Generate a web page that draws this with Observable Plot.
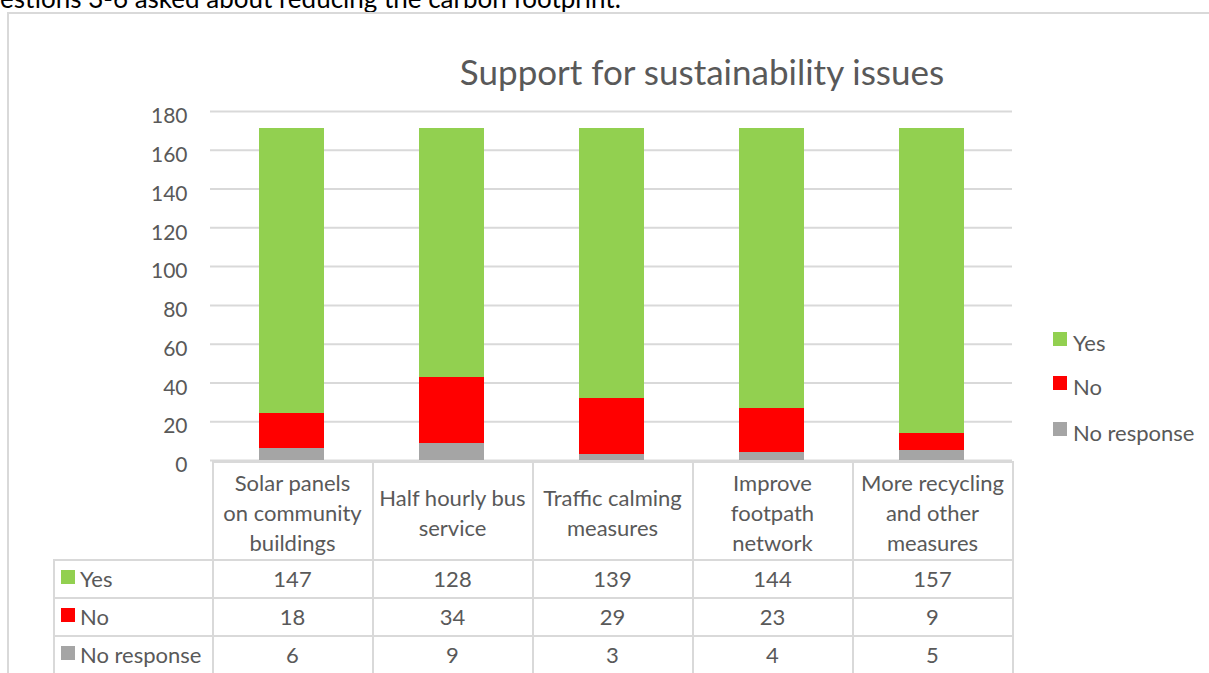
<!DOCTYPE html>
<html>
<head>
<meta charset="utf-8">
<script src="https://cdn.jsdelivr.net/npm/d3@7"></script>
<script src="https://cdn.jsdelivr.net/npm/@observablehq/plot@0.6"></script>
<style>
  html, body { margin: 0; padding: 0; background: #fff; }
  body { width: 1209px; height: 673px; overflow: hidden; position: relative; font-family: Lato, "Open Sans", sans-serif; color: #595959; }
  #intro { position: absolute; left: 0px; top: -15px; font-size: 26px; color: #000; white-space: nowrap; line-height: 26px; }
  #frame { position: absolute; left: 7px; top: 12px; width: 1300px; height: 800px; border-top: 2px solid #d9d9d9; border-left: 2px solid #d9d9d9; }
  #title { position: absolute; left: 352px; width: 700px; top: 50px; text-align: center; font-size: 35px; line-height: 42px; color: #595959; }
  #chart { position: absolute; left: 0; top: 0; }
  #legend { position: absolute; left: 1053px; top: 330px; font-size: 22px; }
  .leg { position: absolute; left: 0; white-space: nowrap; height: 26px; line-height: 26px; }
  .sw { display: inline-block; width: 14px; height: 14px; vertical-align: top; margin-top: 2px; margin-right: 6px; }
  #table { position: absolute; left: 53px; top: 461px; border-collapse: collapse; font-size: 22px; color: #595959; table-layout: fixed; }
  #table td { border: 2px solid #d9d9d9; padding: 0; text-align: center; }
  #table td.corner { border-top: none; border-left: none; }
  #table tr.head td { height: 92px; line-height: 30px; vertical-align: middle; padding-top: 4px; white-space: pre-line; }
  #table tr.row td { height: 36px; line-height: 36px; }
  #table td.rl { text-align: left; padding-left: 6px; white-space: nowrap; }
  #table td.rl .sw { margin-top: 9px; margin-right: 5px; }
</style>
</head>
<body>
<div id="intro">estions 3-6 asked about reducing the carbon footprint.</div>
<div id="frame"></div>
<div id="chart"></div>
<div id="title">Support for sustainability issues</div>
<div id="legend"></div>
<table id="table"></table>
<script>
// ---- data ----
const categories = [
  "Solar panels on community buildings",
  "Half hourly bus service",
  "Traffic calming measures",
  "Improve footpath network",
  "More recycling and other measures"
];
const categoryLabels = [
  "Solar panels\non community\nbuildings",
  "Half hourly bus\nservice",
  "Traffic calming\nmeasures",
  "Improve\nfootpath\nnetwork",
  "More recycling\nand other\nmeasures"
];
const seriesNames = ["Yes", "No", "No response"];
const seriesColors = ["#92d050", "#ff0000", "#a5a5a5"];
const yesValues = [147, 128, 139, 144, 157];
const noValues = [18, 34, 29, 23, 9];
const noResponseValues = [6, 9, 3, 4, 5];
const yTicks = [0, 20, 40, 60, 80, 100, 120, 140, 160, 180];

const seriesValues = {"Yes": yesValues, "No": noValues, "No response": noResponseValues};
const stackOrder = ["No response", "No", "Yes"];
const rows = [];
for (const s of stackOrder) {
  categories.forEach((c, i) => rows.push({category: c, series: s, value: seriesValues[s][i]}));
}

const W = 1209, H = 673;
const plot = Plot.plot({
  width: W,
  height: H,
  marginLeft: 210,
  marginRight: 197,
  marginTop: 111,
  marginBottom: 213,
  style: {fontFamily: "Lato, 'Open Sans', sans-serif", fontSize: "20px", color: "#595959", background: "transparent", overflow: "visible"},
  x: {domain: categories, paddingInner: 0.595, paddingOuter: 0.2975, axis: null},
  y: {domain: [0, 180], ticks: yTicks},
  color: {domain: seriesNames, range: seriesColors},
  marks: [
    Plot.gridY(yTicks, {stroke: "#d9d9d9", strokeOpacity: 1, strokeWidth: 2}),
    Plot.axisY(yTicks, {tickSize: 0, tickPadding: 23, label: null, dy: 5, fill: "#595959", fontSize: 21}),
    Plot.barY(rows, {x: "category", y: "value", fill: "series", order: stackOrder, shapeRendering: "crispEdges"})
  ]
});
document.getElementById("chart").appendChild(plot);

// legend
const legend = document.getElementById("legend");
const legendTops = [0, 44, 90];
seriesNames.forEach((s, i) => {
  const d = document.createElement("div");
  d.className = "leg";
  d.style.top = legendTops[i] + "px";
  d.innerHTML = `<span class="sw" style="background:${seriesColors[i]}"></span>${s}`;
  legend.appendChild(d);
});

// data table aligned to the x scale
const xs = plot.scale("x");
const step = xs.step;
const table = document.getElementById("table");
const firstColLeft = 53;
const bandLeft = xs.apply(categories[0]) + xs.bandwidth / 2 - step / 2;
const colgroup = document.createElement("colgroup");
const c0 = document.createElement("col"); c0.style.width = (bandLeft - firstColLeft) + "px"; colgroup.appendChild(c0);
categories.forEach(() => { const c = document.createElement("col"); c.style.width = step + "px"; colgroup.appendChild(c); });
table.appendChild(colgroup);
const head = document.createElement("tr"); head.className = "head";
head.innerHTML = `<td class="corner"></td>` + categoryLabels.map(l => `<td>${l}</td>`).join("");
table.appendChild(head);
seriesNames.forEach((s, i) => {
  const tr = document.createElement("tr"); tr.className = "row";
  tr.innerHTML = `<td class="rl"><span class="sw" style="background:${seriesColors[i]}"></span>${s}</td>` +
    seriesValues[s].map(v => `<td>${v}</td>`).join("");
  table.appendChild(tr);
});
</script>
</body>
</html>
